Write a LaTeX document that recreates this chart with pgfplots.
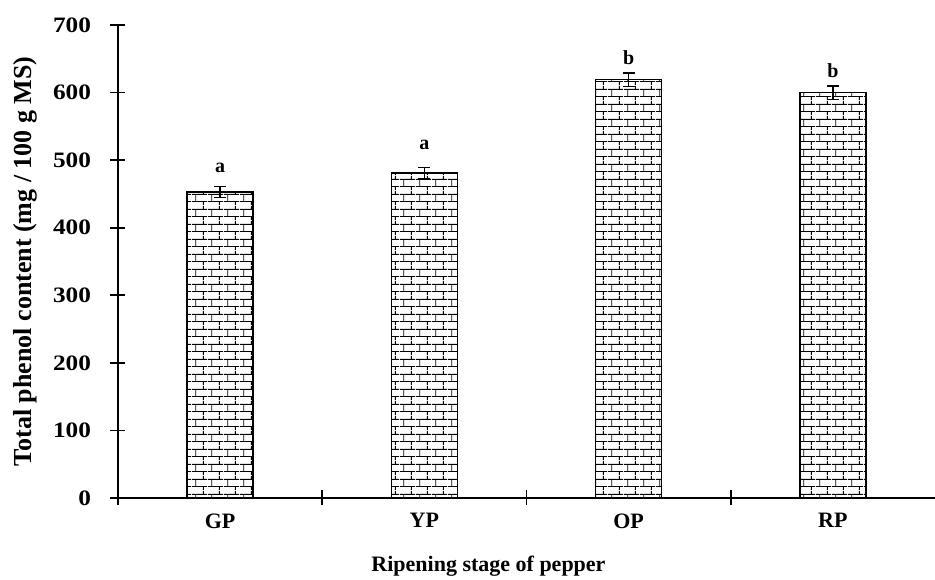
\documentclass[border=0pt]{standalone}
\usepackage{pgfplots}
\pgfplotsset{compat=1.18}
\usepackage{fontspec}
\setmainfont{Liberation Serif}
\usetikzlibrary{patterns.meta}
\tikzdeclarepattern{
  name=mybricks,
  type=uncolored,
  bottom left={(0pt,0pt)},
  top right={(16pt,15pt)},
  tile size={(16pt,15pt)},
  line width=1.8pt,
  code={
    \draw (0pt,3.75pt) -- (16pt,3.75pt);
    \draw (0pt,11.25pt) -- (16pt,11.25pt);
    \draw (4pt,3.75pt) -- (4pt,11.25pt);
    \draw (12pt,11.25pt) -- (12pt,15pt);
    \draw (12pt,0pt) -- (12pt,3.75pt);
  }
}
\begin{document}
\begin{tikzpicture}
\path[use as bounding box] (-118pt,-82pt) rectangle (817pt,498pt);
\begin{axis}[
  scale only axis,
  width=817pt, height=473pt,
  xmin=0, xmax=4, ymin=0, ymax=700,
  axis lines*=left,
  axis line style={line width=1.6pt, black},
  xtick={0,1,2,3}, xticklabels={},
  extra x ticks={0.5,1.5,2.5,3.5},
  extra x tick labels={GP,YP,OP,RP},
  extra x tick style={major tick length=0pt, xticklabel style={yshift=-12pt}},
  ytick={0,100,...,700},
  tick align=center,
  major tick length=15pt,
  tick style={line width=1.6pt, black},
  /pgf/number format/assume math mode=true,
  ticklabel style={font=\fontsize{22}{26}\selectfont\bfseries},
  yticklabel={\scalebox{1.15}[1]{\pgfmathprintnumber{\tick}}},
  yticklabel style={xshift=-16pt},
  xlabel={Ripening stage of pepper},
  ylabel={Total phenol content (mg / 100 g MS)},
  xlabel style={font=\fontsize{22}{26}\selectfont\bfseries, at={(rel axis cs:0.5,0)}, anchor=center, yshift=-68pt, xshift=-38pt},
  ylabel style={font=\fontsize{26}{30}\selectfont\bfseries, at={(rel axis cs:0,0.5)}, anchor=center, rotate=0, yshift=93pt},
  clip=false,
]
\addplot[ybar, bar width=66pt, draw=black, line width=1.5pt,
  pattern={mybricks}, pattern color=black,
  error bars/.cd, y dir=both, y explicit,
  error bar style={line width=1.4pt, black},
  error mark options={rotate=90, mark size=6pt, line width=1.4pt, black}]
  coordinates {
  (0.5,453) +- (0,8)
  (1.5,481) +- (0,8)
  (2.5,619) +- (0,10)
  (3.5,600) +- (0,10)
  };
\addplot[only marks, mark=none, point meta=explicit symbolic,
  nodes near coords,
  nodes near coords style={font=\fontsize{20}{24}\selectfont\bfseries, anchor=center}]
  coordinates {
  (0.5,488) [a]
  (1.5,522) [a]
  (2.5,652) [b]
  (3.5,633) [b]
  };
\end{axis}
\end{tikzpicture}
\end{document}
